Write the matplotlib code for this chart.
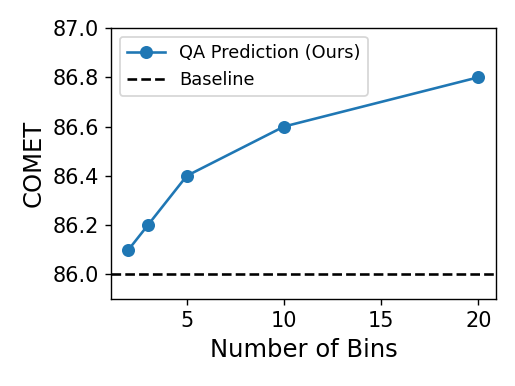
import matplotlib
matplotlib.use("Agg")
import matplotlib.pyplot as plt

# data
bins = [2, 3, 5, 10, 20]
comet = [86.1, 86.2, 86.4, 86.6, 86.8]
baseline = 86.0

fig, ax = plt.subplots(figsize=(5.15 / 1.25, 3.86 / 1.25), dpi=125)
ax.plot(bins, comet, marker='o', color='#1f77b4', linewidth=1.5, markersize=6.5, label='QA Prediction (Ours)')
ax.axhline(baseline, color='black', linestyle='--', linewidth=1.5, label='Baseline')
ax.set_ylim(85.9, 87.0)
ax.set_xticks([5, 10, 15, 20])
ax.set_xlabel('Number of Bins', fontsize=14)
ax.set_ylabel('COMET', fontsize=14)
ax.tick_params(labelsize=12)
ax.legend(loc='upper left', fontsize=10.2, handlelength=2.15)
fig.subplots_adjust(left=0.2155, right=0.963, top=0.9275, bottom=0.2254)
fig.savefig('out.png')
